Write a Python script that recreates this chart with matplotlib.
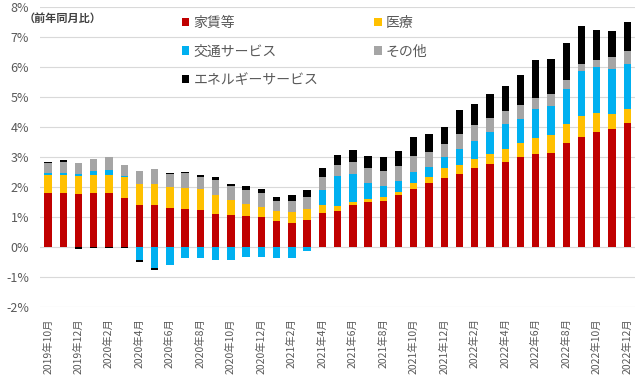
import numpy as np
import matplotlib
matplotlib.use("Agg")
import matplotlib.pyplot as plt
from matplotlib.patches import Patch

plt.rcParams['font.family'] = ['Noto Sans CJK JP', 'DejaVu Sans']

# months 2019-10 .. 2022-12
months = []
for y in range(2019, 2023):
    for m in range(1, 13):
        if (y, m) >= (2019, 10):
            months.append(f"{y}年{m}月")

# contributions (% pt)
rent = [1.81, 1.79, 1.77, 1.81, 1.81, 1.63, 1.41, 1.39, 1.29, 1.27, 1.23, 1.11, 1.07,
        1.03, 1.00, 0.88, 0.79, 0.90, 1.14, 1.21, 1.40, 1.51, 1.53, 1.72, 1.92, 2.12,
        2.31, 2.43, 2.64, 2.78, 2.83, 3.01, 3.09, 3.14, 3.46, 3.66, 3.83, 3.93, 4.14]
medical = [0.59, 0.61, 0.60, 0.60, 0.60, 0.70, 0.69, 0.72, 0.72, 0.71, 0.69, 0.63, 0.48,
           0.39, 0.32, 0.33, 0.37, 0.36, 0.26, 0.17, 0.11, 0.09, 0.15, 0.10, 0.20, 0.22,
           0.31, 0.30, 0.28, 0.32, 0.43, 0.45, 0.55, 0.59, 0.64, 0.72, 0.63, 0.50, 0.47]
transport = [0.08, 0.08, 0.06, 0.11, 0.16, 0.03, -0.43, -0.69, -0.59, -0.36, -0.36, -0.43, -0.45,
             -0.33, -0.33, -0.36, -0.38, -0.13, 0.50, 1.00, 0.92, 0.54, 0.36, 0.38, 0.39, 0.34,
             0.39, 0.54, 0.62, 0.73, 0.83, 0.82, 0.95, 0.97, 1.16, 1.50, 1.55, 1.49, 1.49]
other = [0.32, 0.36, 0.36, 0.40, 0.43, 0.38, 0.43, 0.49, 0.41, 0.48, 0.42, 0.48, 0.48,
         0.48, 0.47, 0.32, 0.37, 0.40, 0.44, 0.35, 0.41, 0.48, 0.49, 0.51, 0.53, 0.50,
         0.41, 0.49, 0.52, 0.48, 0.44, 0.44, 0.39, 0.39, 0.30, 0.22, 0.22, 0.42, 0.43]
energy = [0.04, 0.06, -0.07, -0.02, -0.02, -0.05, -0.07, -0.08, 0.05, 0.04, 0.07, 0.11, 0.08,
          0.13, 0.15, 0.15, 0.19, 0.24, 0.30, 0.34, 0.39, 0.41, 0.48, 0.50, 0.64, 0.59,
          0.59, 0.81, 0.72, 0.79, 0.84, 1.00, 1.24, 1.17, 1.25, 1.27, 1.00, 0.87, 0.97]

series = [
    ("家賃等", rent, "#C00000"),
    ("医療", medical, "#FFC000"),
    ("交通サービス", transport, "#00B0F0"),
    ("その他", other, "#A5A5A5"),
    ("エネルギーサービス", energy, "#000000"),
]

fig = plt.figure(figsize=(6.4, 3.78), dpi=100)
ax = fig.add_axes([0.063, 0.188, 0.929, 0.7935])

x = np.arange(len(months))
pos_base = np.zeros(len(months))
neg_base = np.zeros(len(months))
handles = []
for name, vals, col in series:
    v = np.array(vals)
    bottom = np.where(v >= 0, pos_base, neg_base)
    ax.bar(x, v, 0.48, bottom=bottom, color=col, zorder=3)
    pos_base += np.where(v >= 0, v, 0)
    neg_base += np.where(v < 0, v, 0)
    handles.append(Patch(facecolor=col, label=name))

ax.set_xlim(-0.5, len(months) - 0.5)
ax.set_ylim(-2, 8)
ax.set_yticks(range(-2, 9))
ax.set_yticklabels([f"{t}%" for t in range(-2, 9)])
ax.yaxis.grid(True, color="#D9D9D9", linewidth=0.8, zorder=0)
ax.set_xticks(x[::2])
ax.set_xticklabels(months[::2], rotation=90)
ax.tick_params(axis="both", length=0, colors="#595959")
ax.tick_params(axis="x", labelsize=7.5, pad=8)
ax.tick_params(axis="y", labelsize=9, pad=8)
for s in ax.spines.values():
    s.set_visible(False)

ax.text(-1.62, 7.62, "（前年同月比）", fontsize=8, color="#404040",
        fontweight="bold", va="center", ha="left")

# Excel fills the legend row by row
order = [0, 2, 4, 1, 3]
ax.legend([handles[i] for i in order], [handles[i].get_label() for i in order],
          ncol=2, loc="upper left", bbox_to_anchor=(0.217, 1.012), frameon=False,
          fontsize=10, handlelength=0.55, handleheight=0.55, handletextpad=0.3,
          columnspacing=4.0, labelspacing=1.05, labelcolor="#595959")

fig.savefig("out.png", dpi=100)
